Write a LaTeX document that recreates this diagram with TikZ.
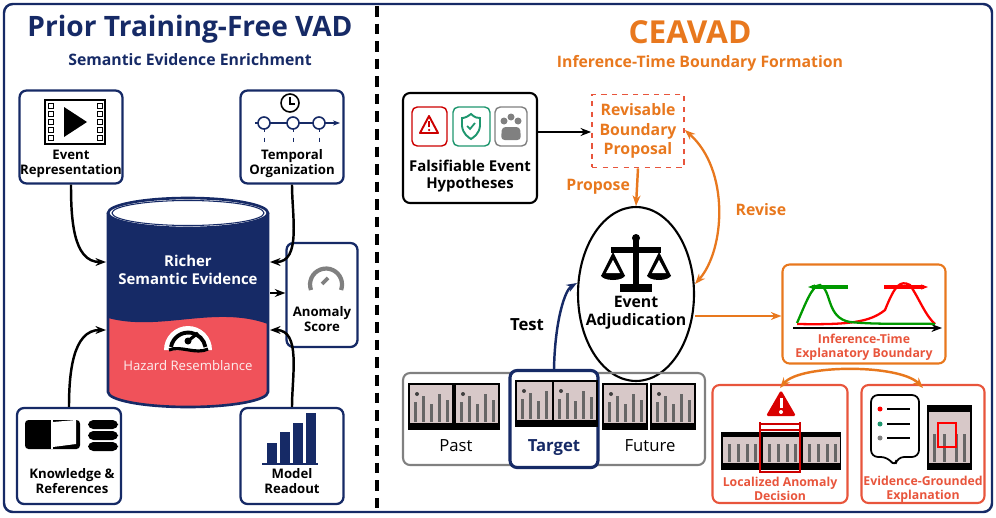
\documentclass[tikz,border=0pt]{standalone}
\usepackage{fontspec}
\setmainfont{Open Sans}
\usetikzlibrary{arrows.meta,positioning,shapes.geometric}
\definecolor{navy}{RGB}{22,42,102}
\definecolor{orng}{RGB}{232,120,30}
\definecolor{redb}{RGB}{232,85,60}
\definecolor{hazard}{RGB}{240,82,90}
\definecolor{grn}{RGB}{30,150,110}
\definecolor{frame}{RGB}{215,200,200}
\tikzset{
  nbox/.style={draw=navy, line width=1.3pt, rounded corners=4pt, fill=white},
  obox/.style={draw=redb, line width=1.2pt, rounded corners=4pt},
  lbl/.style={font=\fontsize{7.5}{8.5}\selectfont\bfseries, align=center},
  olbl/.style={font=\fontsize{7}{8}\selectfont\bfseries, align=center, text=redb},
  arr/.style={-{Stealth[length=6pt]}, line width=1.4pt},
  shot/.style={fill=frame, draw=black, line width=1.2pt},
}
\newcommand{\shotat}[2]{% frame thumbnail, top-left corner
  \draw[shot] (#1,#2) rectangle ++(44,45);
  \fill[black] (#1,#2+39) rectangle ++(44,6);
  \foreach \k/\h in {5/20,13/26,21/18,29/28,37/22} \fill[black!60] (#1+\k,#2+38) rectangle ++(3,-\h);
  \fill[black!75] (#1+8,#2+10) circle (0.04cm);
}
\begin{document}
\begin{tikzpicture}[x=0.02cm, y=-0.02cm]
  \useasboundingbox (0,0) rectangle (996,517);
  \draw[navy, line width=1.4pt, rounded corners=5pt] (4,4) rectangle (992,512);
  \draw[line width=1.8pt, dash pattern=on 6pt off 4pt] (377,6) -- (377,510);

  % left panel
  \node[text=navy, font=\fontsize{16}{18}\selectfont\bfseries] (ltitle) at (190,29) {Prior Training-Free VAD};
  \node[text=navy, font=\fontsize{9}{10}\selectfont\bfseries] (lsub) at (190,60) {Semantic Evidence Enrichment};

  \node[nbox, minimum width=2.06cm, minimum height=1.86cm] (evrep) at (71,137) {};
  \node[lbl] at (71,164) {Event\\Representation};
  \draw[line width=1pt] (45,100) rectangle (105,144);
  \foreach \j in {103,111,119,127,135} {
    \draw (48,\j) rectangle ++(5,5); \draw (97,\j) rectangle ++(5,5);}
  \fill (64,107) -- (64,137) -- (87,122) -- cycle;

  \node[nbox, minimum width=2.06cm, minimum height=1.86cm] (tempo) at (292,137) {};
  \node[lbl] at (292,164) {Temporal\\Organization};
  \draw[line width=0.9pt] (290,103) circle (0.18cm);
  \draw[line width=0.9pt] (290,97) -- (290,104) -- (295,104);
  \draw[navy, line width=1.2pt, -{Stealth[length=4pt]}] (255,123) -- (340,123);
  \foreach \t in {264,293,319} {
    \draw[navy, dashed] (\t,127) -- (\t,142);
    \draw[navy, fill=white, line width=0.9pt] (\t,123) circle (0.12cm);}

  % cylinder
  \fill[hazard] (108,213) -- (108,392) arc[start angle=180, end angle=360, x radius=1.6cm, y radius=0.3cm] -- (268,213) -- cycle;
  \fill[navy] (108,213) -- (108,318) .. controls (160,332) and (215,305) .. (268,324) -- (268,213) -- cycle;
  \draw[navy, line width=1.5pt] (108,213) -- (108,392) arc[start angle=180, end angle=360, x radius=1.6cm, y radius=0.3cm] -- (268,213);
  \draw[navy, fill=white, line width=1.5pt] (188,213) ellipse [x radius=1.6cm, y radius=0.3cm];
  \draw[navy, line width=0.6pt] (188,213) ellipse [x radius=1.52cm, y radius=0.25cm];
  \node[lbl, text=white, font=\fontsize{8.5}{10}\selectfont\bfseries] (richer) at (188,270) {Richer\\Semantic Evidence};
  \fill[white] (164,350) arc[start angle=180, end angle=0, radius=0.48cm] -- cycle;
  \draw[line width=2.2pt] (171,347) arc[start angle=170, end angle=10, radius=0.35cm];
  \draw[line width=1.8pt] (188,341) -- (198,333);
  \fill (188,341) circle (0.07cm);
  \draw[line width=1.8pt] (169,350) .. controls (180,345) and (196,355) .. (208,349);
  \node[text=white!90!hazard, font=\fontsize{7.5}{9}\selectfont] (hazlbl) at (188,366) {Hazard Resemblance};
  \coordinate (cylUL) at (106,262);
  \coordinate (cylUR) at (270,262);
  \coordinate (cylLL) at (106,330);
  \coordinate (cylLR) at (270,330);
  \coordinate (cylM) at (270,293);

  \node[nbox, minimum width=1.42cm, minimum height=2.08cm] (score) at (322,295) {};
  \node[lbl] at (322,319) {Anomaly\\Score};
  \draw[gray, line width=2.4pt] (311,290) arc[start angle=200, end angle=-20, radius=0.32cm];
  \draw[gray, line width=2.2pt] (322,284) -- (328,278);

  \node[nbox, minimum width=2.08cm, minimum height=1.92cm] (know) at (69,456) {};
  \node[lbl] at (72,481) {Knowledge \&\\References};
  \fill[rounded corners=2pt] (25,420) rectangle (80,449);
  \fill[white] (53,422) -- (76,420) -- (76,444) -- (53,447) -- cycle;
  \fill[white] (51,420) rectangle (53,449);
  \foreach \d in {420,431,442} \fill[rounded corners=3pt] (88,\d) rectangle ++(30,9);
  \node[nbox, minimum width=2.06cm, minimum height=1.92cm] (readout) at (292,456) {};
  \node[lbl] at (292,481) {Model\\Readout};
  \foreach \b/\h in {267/20,280/31,293/40,306/50} \fill[navy] (\b,463) rectangle ++(10,-\h);
  \draw[navy, line width=1pt] (262,464) -- (318,464);

  \draw[arr] (evrep.south) to[out=-90, in=180] (cylUL);
  \draw[arr] (tempo.south) to[out=-90, in=0] (cylUR);
  \draw[arr] (know.north) to[out=90, in=180] (cylLL);
  \draw[arr] (readout.north) to[out=90, in=0] (cylLR);
  \draw[arr] (cylM) -- (score.west |- cylM);

  % right panel
  \node[text=orng, font=\fontsize{18}{20}\selectfont\bfseries] (rtitle) at (690,32) {CEAVAD};
  \node[text=orng, font=\fontsize{9}{10}\selectfont\bfseries] (rsub) at (700,63) {Inference-Time Boundary Formation};

  \node[draw, line width=1.2pt, rounded corners=4pt, minimum width=2.68cm, minimum height=2.2cm] (hyp) at (470,148) {};
  \node[lbl, font=\fontsize{8.5}{10}\selectfont\bfseries] at (470,176) {Falsifiable Event\\Hypotheses};
  \draw[red!80!black, rounded corners=3pt, line width=0.8pt] (412,107) rectangle (447,146);
  \draw[grn, rounded corners=3pt, line width=0.8pt] (453,107) rectangle (490,146);
  \draw[gray, rounded corners=3pt, line width=0.8pt] (495,107) rectangle (527,146);
  \draw[red!80!black, line width=1.1pt, line join=round] (429,116) -- (420,133) -- (438,133) -- cycle;
  \draw[red!80!black, line width=1pt] (429,121) -- (429,127); \fill[red!80!black] (429,130) circle (0.025cm);
  \draw[grn, line width=1.1pt] (471,114) .. controls (466,118) and (463,118) .. (462,118) -- (462,126) .. controls (463,134) and (468,137) .. (471,139) .. controls (474,137) and (479,134) .. (480,126) -- (480,118) .. controls (478,118) and (475,118) .. (471,114) -- cycle;
  \draw[grn, line width=1pt] (467,126) -- (470,129) -- (475,123);
  \foreach \p/\q in {504/121,511/117,518/121} \fill[gray] (\p,\q) circle (0.07cm);
  \fill[gray, rounded corners=2pt] (501,140) -- (502,127) -- (520,127) -- (521,140) -- cycle;

  \node[draw=redb, dashed, line width=1pt, minimum width=1.84cm, minimum height=1.46cm, text=orng, font=\fontsize{9}{11}\selectfont\bfseries, align=center] (proposal) at (638,131) {Revisable\\Boundary\\Proposal};
  \draw[arr] (hyp.east |- 0,132) -- (proposal.west |- 0,132);

  \node[draw, ellipse, line width=1.2pt, minimum width=2.32cm, minimum height=3.48cm] (adjud) at (636,294) {};
  \node[lbl, font=\fontsize{9}{10.5}\selectfont\bfseries] at (636,313) {Event\\Adjudication};
  \draw[line width=3pt] (636,238) -- (636,286);
  \draw[line width=3pt] (611,250) -- (661,250);
  \draw[line width=4pt] (620,288) -- (652,288);
  \fill (613,252) -- (601,276) -- (625,276) -- cycle;
  \fill (659,252) -- (647,276) -- (671,276) -- cycle;
  \fill[white] (613,260) -- (606,273) -- (620,273) -- cycle;
  \fill[white] (659,260) -- (652,273) -- (666,273) -- cycle;
  \fill (601,275) arc[start angle=180, end angle=360, x radius=0.24cm, y radius=0.1cm] -- cycle;
  \fill (647,275) arc[start angle=180, end angle=360, x radius=0.24cm, y radius=0.1cm] -- cycle;
  \fill (636,238) circle (0.08cm);

  \draw[arr, orng] (proposal.south) -- node[left, font=\fontsize{9}{10}\selectfont\bfseries] {Propose} (adjud.north);
  \draw[{Stealth[length=6pt]}-{Stealth[length=6pt]}, line width=1.3pt, orng] (adjud.east |- 0,284) .. controls (725,250) and (730,170) .. (proposal.east |- 0,130)
    node[pos=0.5, right=6pt, font=\fontsize{9}{10}\selectfont\bfseries] {Revise};

  \node[obox, draw=orng, minimum width=3.26cm, minimum height=1.98cm] (infer) at (864,314) {};
  \node[olbl] at (864,347) {Inference-Time\\Explanatory Boundary};
  \draw[arr, line width=1.4pt] (793,328) -- (942,328);
  \draw[red, line width=1.3pt] (797,324) .. controls (850,325) and (870,322) .. (885,310) .. controls (895,285) and (900,280) .. (910,285) .. controls (920,300) and (925,315) .. (935,324);
  \draw[green!60!black, line width=1.3pt] (797,323) .. controls (805,305) and (812,285) .. (820,285) .. controls (832,290) and (826,318) .. (850,322) .. controls (880,325) and (910,323) .. (935,324);
  \draw[green!60!black, line width=1.8pt, -{Stealth[length=4pt]}] (848,287) -- (808,287);
  \draw[red, line width=1.8pt, -{Stealth[length=4pt]}] (884,287) -- (928,287);
  \draw[arr, orng] (adjud.east |- 0,316) -- (infer.west |- 0,316);

  % frames
  \node[draw=gray, line width=1.2pt, rounded corners=4pt, minimum width=6.04cm, minimum height=1.84cm] (frames) at (554,419) {};
  \shotat{409}{384} \shotat{455}{384} \shotat{603}{384} \shotat{651}{384}
  \node[draw=navy, line width=1.8pt, rounded corners=4pt, fill=white, minimum width=1.76cm, minimum height=1.94cm] (target) at (554,419) {};
  \shotat{516}{381} \shotat{553}{381}
  \node[font=\fontsize{9.5}{11}\selectfont] at (456,446) {Past};
  \node[font=\fontsize{9.5}{11}\selectfont] at (650,446) {Future};
  \node[text=navy, font=\fontsize{9.5}{11}\selectfont\bfseries] at (554,448) {Target};
  \draw[arr, navy] (target.north) .. controls (555,320) and (565,290) .. (adjud.west |- 0,283) node[pos=0.35, left=4pt, text=black, font=\fontsize{9.5}{11}\selectfont\bfseries] {Test};

  % outputs
  \node[obox, minimum width=2.7cm, minimum height=2.36cm] (local) at (780,444) {};
  \node[olbl] at (780,489) {Localized Anomaly\\Decision};
  \node[obox, minimum width=2.46cm, minimum height=2.36cm] (explain) at (923,444) {};
  \node[olbl] at (923,489) {Evidence-Grounded\\Explanation};
  \draw[{Stealth[length=6pt]}-{Stealth[length=6pt]}, line width=1.4pt, orng] (local.north |- 0,388) .. controls (800,364) and (900,364) .. (explain.north |- 0,388);

  \fill[red!85!black, rounded corners=1pt] (781,390) -- (766,416) -- (796,416) -- cycle;
  \fill[white] (779.5,398) rectangle (782.5,408); \fill[white] (781,412) circle (0.04cm);
  \fill[black] (721,432) rectangle (841,470);
  \foreach \s in {723,763,803} {\fill[frame] (\s,437) rectangle ++(37,26);
    \foreach \k in {5,14,23,31} \fill[black!60] (\s+\k,462) rectangle ++(3,-18);}
  \draw[red!80!black, line width=1pt] (760,422) -- (760,472) -- (800,472) -- (800,422);
  \draw[red!80!black, line width=1pt] (760,424) -- (800,424) (760,430) -- (800,430);

  \draw[line width=1pt, rounded corners=4pt] (871,395) -- (871,457) -- (888,457) -- (895,467) -- (897,457) -- (919,457) -- (919,395) -- cycle;
  \foreach \c/\yy in {red/409,grn/424,gray/438} {
    \fill[\c] (880,\yy) circle (0.05cm); \draw[line width=1pt] (887,\yy) -- (910,\yy);}
  \fill[black] (927,405) rectangle (972,470);
  \fill[frame] (929,412) rectangle (970,463);
  \foreach \k in {4,14,26,34} \fill[black!60] (929+\k,462) rectangle ++(3,-28);
  \draw[red, line width=0.8pt] (938,423) rectangle (956,447);
\end{tikzpicture}
\end{document}
